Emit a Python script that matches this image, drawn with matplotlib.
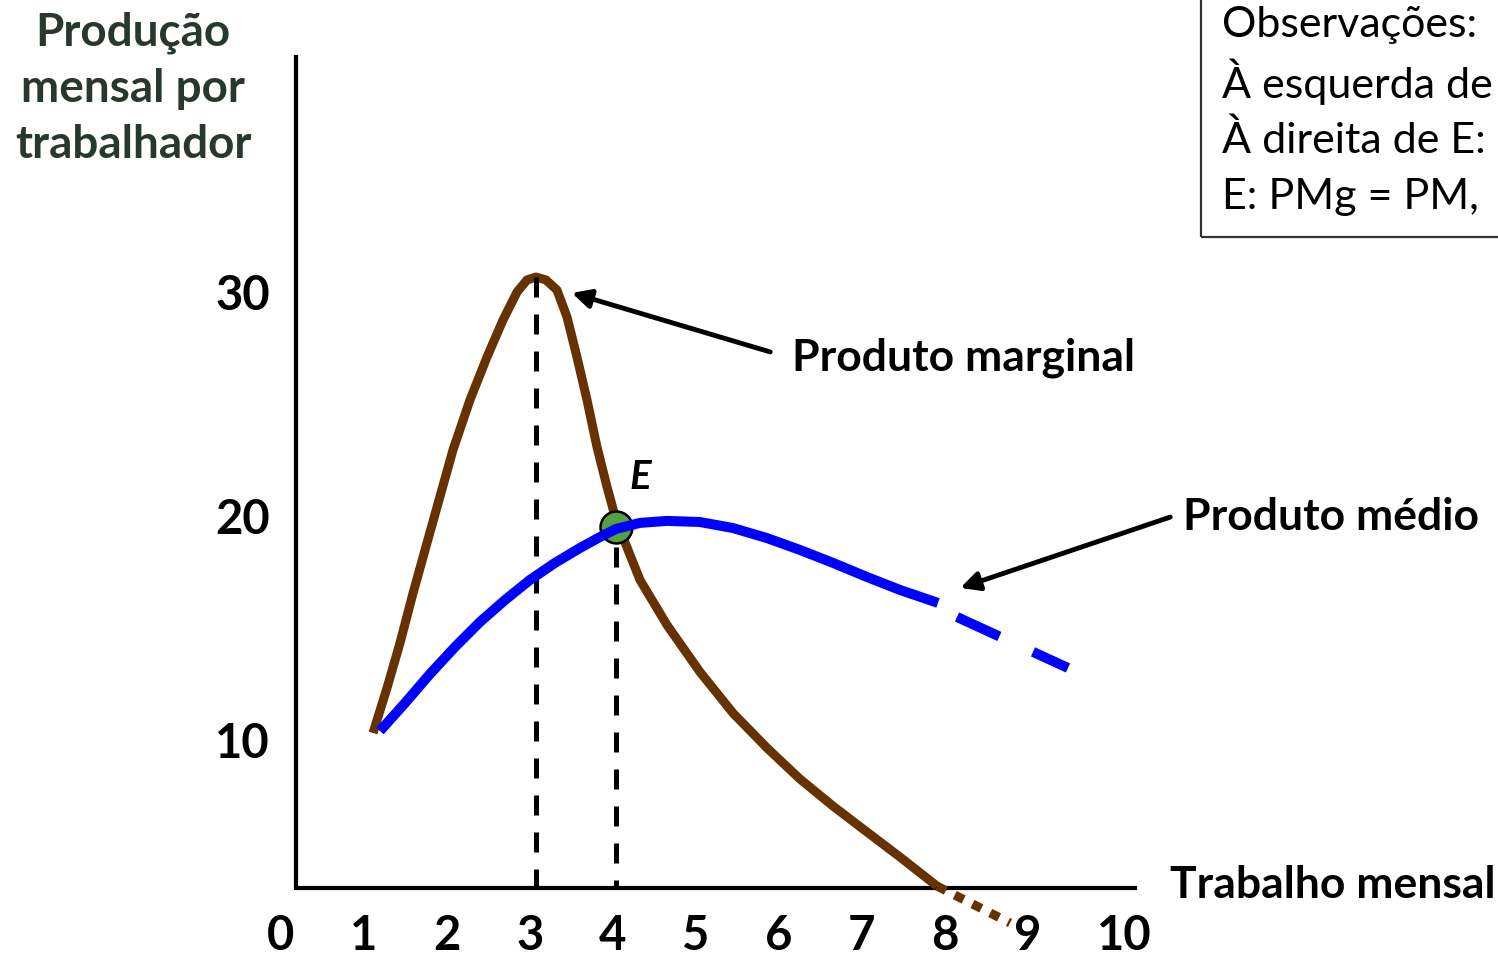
import matplotlib
matplotlib.use("Agg")
import matplotlib.pyplot as plt
from matplotlib.patches import Rectangle

plt.rcParams['font.family'] = ['Lato', 'DejaVu Sans']

# ---------------- data ----------------
x_ticks = [0, 1, 2, 3, 4, 5, 6, 7, 8, 9, 10]
y_ticks = [10, 20, 30]

# Produto marginal (PMg)
pmg_x = [1.145, 1.313, 1.470, 1.627, 1.795, 1.916, 2.108, 2.313, 2.518, 2.711,
         2.880, 3.000, 3.108, 3.229, 3.361, 3.482, 3.602, 3.723, 3.843, 3.964,
         4.024, 4.084, 4.169, 4.361, 4.687, 5.084, 5.482, 5.892, 6.289, 6.687,
         7.096, 7.494, 7.940]
pmg_y = [10.47, 12.48, 14.50, 16.73, 18.97, 20.58, 23.13, 25.37, 27.29, 28.95,
         30.20, 30.74, 30.87, 30.74, 30.29, 29.08, 27.29, 25.37, 23.27, 21.48,
         20.67, 19.78, 19.11, 17.32, 15.30, 13.20, 11.36, 9.80, 8.41, 7.20,
         6.04, 4.92, 3.62]
pmg_ext_x = [7.940, 8.82]
pmg_ext_y = [3.62, 1.97]

# Produto médio (PM)
pm_x = [1.229, 1.530, 1.831, 2.133, 2.434, 2.735, 3.036, 3.337, 3.639, 3.880,
        4.072, 4.361, 4.687, 5.084, 5.482, 5.892, 6.289, 6.687, 7.096, 7.494,
        7.952]
pm_y = [10.56, 11.81, 13.11, 14.32, 15.44, 16.42, 17.32, 18.08, 18.75, 19.24,
        19.60, 19.87, 19.96, 19.91, 19.64, 19.19, 18.66, 18.08, 17.45, 16.87,
        16.29]
pm_ext_x = [8.181, 9.518]
pm_ext_y = [15.66, 13.38]

# Ponto E
e_x, e_y = 4.07, 19.69

title_txt = "Produção\nmensal por\ntrabalhador"
xlabel_txt = "Trabalho mensal"
pmg_label = "Produto marginal"
pm_label = "Produto médio"
obs_lines = ["Observações:",
             "À esquerda de",
             "À direita de E:",
             "E: PMg = PM,"]

# ---------------- figure ----------------
W, H = 1498, 957
fig = plt.figure(figsize=(W / 100, H / 100), dpi=100)
ax = fig.add_axes([0, 0, 1, 1])
px_per_x, x0_px = 83.0, 278.0
px_per_y, y20_px = 22.35, 520.0
ax.set_xlim(-x0_px / px_per_x, (W - x0_px) / px_per_x)
ax.set_ylim(20 - (H - y20_px) / px_per_y, 20 + y20_px / px_per_y)
ax.axis('off')

brown = '#663300'
blue = '#0000ff'

# axes lines
ax_x0, ax_y0 = 0.217, 3.53
ax.plot([ax_x0, ax_x0], [ax_y0 - 0.1, 40.8], color='black', lw=3, solid_capstyle='butt', zorder=2)
ax.plot([ax_x0 - 0.02, 10.35], [ax_y0, ax_y0], color='black', lw=3, solid_capstyle='butt', zorder=2)

# PMg curve
ax.plot(pmg_x, pmg_y, color=brown, lw=6.5, solid_capstyle='butt', solid_joinstyle='round', zorder=3)
ax.plot(pmg_ext_x, pmg_ext_y, color=brown, lw=6.5, linestyle=(0, (1.1, 1.1)),
        dash_capstyle='butt', zorder=3)

# vertical dashed lines
peak_i = pmg_y.index(max(pmg_y))
ax.plot([pmg_x[peak_i]] * 2, [pmg_y[peak_i], ax_y0], color='black', lw=3.6,
        linestyle=(0, (4, 3.4)), dash_capstyle='butt', zorder=4)
ax.plot([e_x] * 2, [e_y - 0.9, ax_y0], color='black', lw=3.6,
        linestyle=(0, (4, 3.4)), dash_capstyle='butt', zorder=4)

# E point
ax.plot([e_x], [e_y], marker='o', markersize=23, markerfacecolor='#55a040',
        markeredgecolor='black', markeredgewidth=1.8, zorder=5)

# PM curve
ax.plot(pm_x, pm_y, color=blue, lw=7.2, solid_capstyle='butt', solid_joinstyle='round', zorder=6)
ax.plot(pm_ext_x, pm_ext_y, color=blue, lw=7.2, linestyle=(0, (4.66, 3.7)),
        dash_capstyle='butt', zorder=6)

# tick labels
for v in x_ticks:
    ax.text(v - 0.13, 1.39, str(v), ha='left', va='center', fontsize=34,
            fontweight='bold', color='black')
for v in y_ticks:
    ax.text(-0.1, v, str(v), ha='right', va='center', fontsize=34,
            fontweight='bold', color='black')

# title
ax.text(-1.747, 39.3, title_txt, ha='center', va='center', fontsize=33,
        fontweight='bold', color='#27382c', linespacing=1.42)

# axis label
ax.text(10.75, 3.67, xlabel_txt, ha='left', va='center', fontsize=32,
        fontweight='bold', color='black')

# curve labels and arrows
ax.text(6.19, 27.25, pmg_label, ha='left', va='center', fontsize=32,
        fontweight='bold', color='black')
ax.annotate('', xy=(3.54, 30.16), xytext=(5.93, 27.52),
            arrowprops=dict(arrowstyle='-|>', lw=3.5, color='black',
                            mutation_scale=28, shrinkA=0, shrinkB=0))
ax.text(10.90, 20.13, pm_label, ha='left', va='center', fontsize=32,
        fontweight='bold', color='black')
ax.annotate('', xy=(8.22, 16.96), xytext=(10.75, 20.13),
            arrowprops=dict(arrowstyle='-|>', lw=3.5, color='black',
                            mutation_scale=28, shrinkA=0, shrinkB=0))

ax.text(4.37, 21.88, 'E', ha='center', va='center', fontsize=29,
        fontweight='bold', fontstyle='italic', color='black')

# observations box
ax.add_patch(Rectangle((11.12, 32.66), 10, 20, fill=False, edgecolor='#333333',
                       lw=1.6, zorder=1))
for line, yy in zip(obs_lines, [42.15, 39.6, 37.0, 34.45]):
    ax.text(11.37, yy, line, ha='left', va='center', fontsize=31,
            color='black')

fig.savefig('out.png', dpi=100)
